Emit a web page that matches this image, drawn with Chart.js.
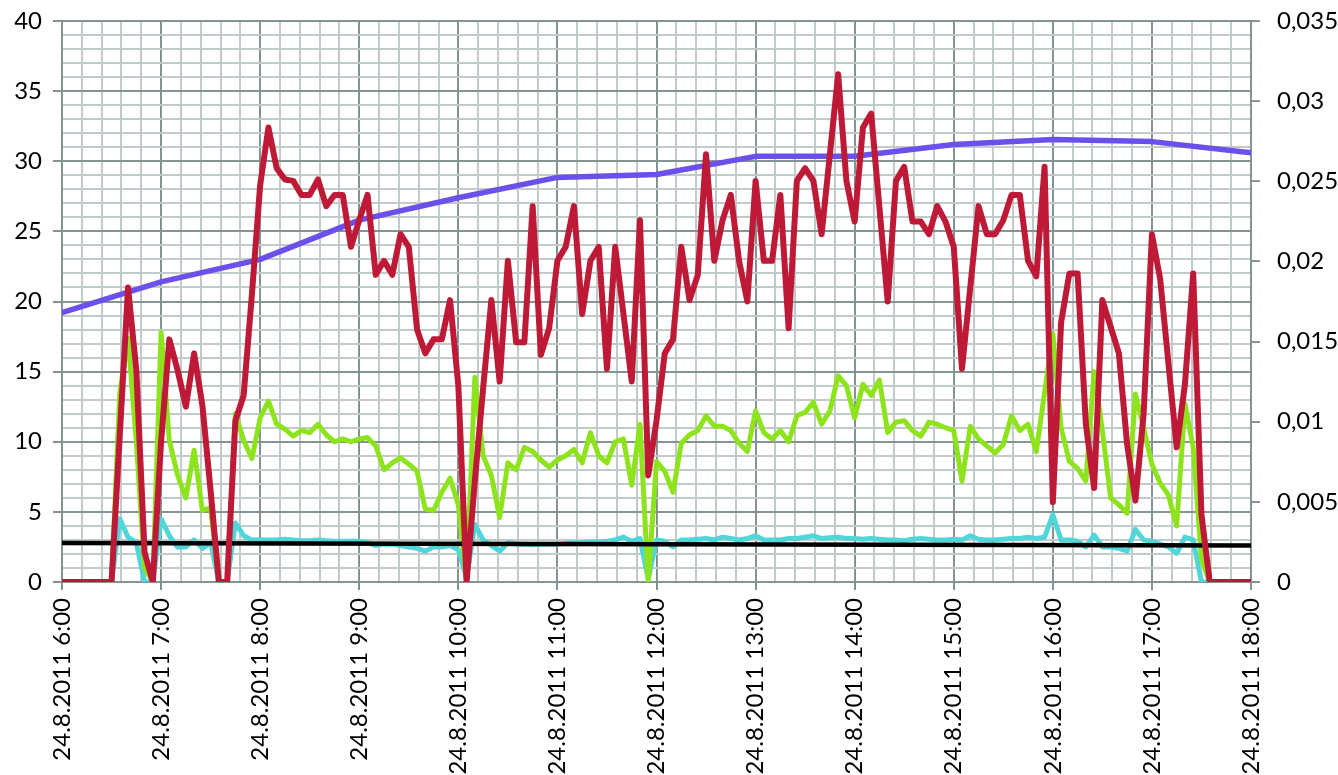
<!DOCTYPE html>
<html>
<head>
<meta charset="utf-8">
<script src="https://cdn.jsdelivr.net/npm/chart.js@4.4.0/dist/chart.umd.min.js"></script>
<style>
  body { margin: 0; background: #fff; }
  #wrap { width: 1338px; height: 775px; }
</style>
</head>
<body>
<div id="wrap"><canvas id="dayChart" width="1338" height="775"></canvas></div>
<script>
// day of measurements, one sample every 5 minutes from 6:00 to 18:00
const dateText = '24.8.2011';
const startHour = 6;
const stepMinutes = 5;

// one row per hour (12 samples), last value is 18:00
const redSeries = [
  0, 0, 0, 0, 0, 0, 0, 10.5, 21.0, 15.1, 2.1, 0,
  10, 17.3, 15.1, 12.5, 16.3, 12.6, 6.5, 0, 0, 11.5, 13.3, 20.5,
  28.3, 32.4, 29.5, 28.7, 28.6, 27.6, 27.6, 28.7, 26.8, 27.6, 27.6, 23.9,
  25.8, 27.6, 21.9, 22.9, 21.9, 24.8, 23.9, 18.0, 16.3, 17.3, 17.3, 20.1,
  14, 0, 7.2, 13.8, 20.1, 14.3, 22.9, 17.1, 17.1, 26.8, 16.2, 18.1,
  22.9, 23.9, 26.8, 19.1, 22.9, 23.9, 15.2, 23.9, 19.1, 14.3, 25.8, 7.6,
  11.5, 16.3, 17.3, 23.9, 20.1, 21.9, 30.5, 22.9, 25.8, 27.6, 22.9, 20.0,
  28.6, 22.9, 22.9, 27.6, 18.1, 28.6, 29.5, 28.6, 24.8, 30.5, 36.2, 28.6,
  25.7, 32.4, 33.4, 26.7, 20.0, 28.6, 29.6, 25.7, 25.7, 24.8, 26.8, 25.7,
  23.9, 15.2, 21.0, 26.8, 24.8, 24.8, 25.8, 27.6, 27.6, 22.9, 21.8, 29.6,
  5.7, 18.5, 22.0, 22.0, 11.25, 6.7, 20.1, 18.2, 16.3, 9.8, 5.8, 12,
  24.8, 21.6, 15.6, 9.6, 14.1, 22.0, 4.8, 0, 0, 0, 0, 0,
  0
];

const greenSeries = [
  0, 0, 0, 0, 0, 0, 0, 13.5, 17.4, 10, 1, 0,
  17.8, 10.1, 7.6, 6.0, 9.4, 5.1, 5.3, 0, 0, 12.0, 10.1, 8.8,
  11.7, 12.9, 11.25, 10.9, 10.4, 10.8, 10.65, 11.25, 10.5, 10.0, 10.2, 10.0,
  10.2, 10.3, 9.7, 8.0, 8.5, 8.85, 8.4, 7.9, 5.2, 5.1, 6.4, 7.4,
  5.5, 0, 14.6, 9.0, 7.6, 4.6, 8.5, 8.0, 9.6, 9.3, 8.7, 8.2,
  8.7, 9.0, 9.45, 8.5, 10.65, 9.0, 8.5, 10.0, 10.2, 6.9, 11.25, 0,
  8.6, 7.9, 6.4, 9.9, 10.5, 10.8, 11.85, 11.1, 11.1, 10.8, 9.9, 9.3,
  12.2, 10.65, 10.2, 10.8, 10.0, 11.85, 12.1, 12.8, 11.25, 12.2, 14.7, 14.0,
  11.7, 14.1, 13.3, 14.4, 10.65, 11.4, 11.5, 10.8, 10.4, 11.4, 11.25, 11.0,
  10.8, 7.2, 11.1, 10.2, 9.7, 9.2, 9.8, 11.85, 10.8, 11.25, 9.3, 13.5,
  17.7, 11.0, 8.6, 8.1, 7.2, 15.0, 10.8, 6.0, 5.5, 4.9, 13.4, 11.0,
  8.4, 7.05, 6.2, 4.0, 12.7, 9.6, 1.6, 0, 0, 0, 0, 0,
  0
];

const cyanSeries = [
  0, 0, 0, 0, 0, 0, 0, 4.5, 3.2, 2.8, 0, 0,
  4.5, 3.3, 2.5, 2.5, 3.0, 2.4, 2.8, 0, 0, 4.2, 3.3, 3.0,
  3.0, 3.0, 3.0, 3.05, 3.0, 2.95, 2.95, 3.0, 2.95, 2.9, 2.9, 2.9,
  2.9, 2.8, 2.6, 2.7, 2.7, 2.6, 2.5, 2.4, 2.2, 2.5, 2.5, 2.6,
  2.3, 0.3, 4.1, 3.0, 2.6, 2.2, 2.8, 2.7, 2.7, 2.65, 2.7, 2.7,
  2.7, 2.75, 2.8, 2.8, 2.85, 2.85, 2.9, 3.0, 3.2, 2.9, 3.1, 0.2,
  3.0, 2.9, 2.5, 3.0, 3.0, 3.05, 3.1, 3.0, 3.2, 3.1, 3.0, 3.1,
  3.3, 3.0, 3.0, 3.0, 3.1, 3.1, 3.2, 3.3, 3.1, 3.15, 3.2, 3.1,
  3.1, 3.05, 3.1, 3.05, 3.0, 3.0, 2.95, 3.05, 3.1, 3.05, 3.0, 3.0,
  3.05, 3.0, 3.3, 3.05, 3.0, 3.0, 3.05, 3.1, 3.1, 3.2, 3.1, 3.2,
  4.8, 3.0, 3.0, 2.9, 2.5, 3.35, 2.5, 2.5, 2.4, 2.2, 3.75, 3.0,
  2.9, 2.7, 2.5, 2.05, 3.2, 3.0, 0, 0, 0, 0, 0, 0,
  0
];

// hourly readings 6:00 .. 18:00
const blueHourly = [19.2, 21.4, 23.0, 25.8, 27.4, 28.85, 29.05, 30.35, 30.35, 31.2, 31.55, 31.4, 30.6];

// right axis series, start and end of the day
const blackLine = [0.00243, 0.00227];

const leftTicks = { min: 0, max: 40, major: 5 };
const rightTicks = { min: 0, max: 0.035, step: 0.005 };

const majorGrid = '#849494';
const minorGrid = '#c0cbca';

function toPoints(values, step) {
  return values.map((v, i) => ({ x: i * step, y: v }));
}

function timeLabel(minutes) {
  return dateText + ' ' + (startHour + minutes / 60) + ':00';
}

// fixed axis box so the plot area lands at the same place every time
function fixWidth(w) {
  return function (scale) {
    scale.width = w;
    scale.paddingTop = 0;
    scale.paddingBottom = 0;
  };
}

Chart.defaults.font.family = 'Lato';
Chart.defaults.font.size = 24;
Chart.defaults.color = '#000';

const ctx = document.getElementById('dayChart').getContext('2d');
const dayChart = new Chart(ctx, {
  type: 'line',
  data: {
    datasets: [
      {
        label: 'red',
        data: toPoints(redSeries, stepMinutes),
        borderColor: '#be1a37',
        borderWidth: 6,
        yAxisID: 'y'
      },
      {
        label: 'black',
        data: toPoints(blackLine, 720),
        borderColor: '#000000',
        borderWidth: 4.5,
        yAxisID: 'y2'
      },
      {
        label: 'green',
        data: toPoints(greenSeries, stepMinutes),
        borderColor: '#8de31c',
        borderWidth: 5,
        yAxisID: 'y'
      },
      {
        label: 'cyan',
        data: toPoints(cyanSeries, stepMinutes),
        borderColor: '#50d6d8',
        borderWidth: 5,
        yAxisID: 'y'
      },
      {
        label: 'blue',
        data: toPoints(blueHourly, 60),
        borderColor: '#6c50ec',
        borderWidth: 5.5,
        yAxisID: 'y'
      }
    ]
  },
  options: {
    responsive: false,
    animation: false,
    layout: { padding: { top: 21, left: 0, right: 0, bottom: 0 } },
    elements: {
      point: { radius: 0 },
      line: { tension: 0, borderJoinStyle: 'round', borderCapStyle: 'round', fill: false }
    },
    plugins: {
      legend: { display: false },
      tooltip: { enabled: false }
    },
    scales: {
      x: {
        type: 'linear',
        min: 0,
        max: 720,
        afterFit: function (scale) { scale.height = 193; },
        ticks: {
          stepSize: 12,
          autoSkip: false,
          minRotation: 90,
          maxRotation: 90,
          padding: 8,
          callback: function (value) {
            return value % 60 === 0 ? timeLabel(value) : '';
          }
        },
        grid: {
          lineWidth: 2,
          tickLength: 8,
          color: function (c) {
            return c.tick && c.tick.value % 60 === 0 ? majorGrid : minorGrid;
          },
          tickColor: function (c) {
            return c.tick && c.tick.value % 60 === 0 ? majorGrid : 'rgba(0,0,0,0)';
          }
        },
        border: { color: majorGrid, width: 2 }
      },
      y: {
        position: 'left',
        min: leftTicks.min,
        max: leftTicks.max,
        afterFit: fixWidth(62),
        ticks: {
          stepSize: 1,
          autoSkip: false,
          padding: 11,
          callback: function (value) {
            return value % leftTicks.major === 0 ? String(value) : '';
          }
        },
        grid: {
          lineWidth: 2,
          tickLength: 9,
          color: function (c) {
            return c.tick && c.tick.value % leftTicks.major === 0 ? majorGrid : minorGrid;
          },
          tickColor: function (c) {
            return c.tick && c.tick.value % leftTicks.major === 0 ? majorGrid : 'rgba(0,0,0,0)';
          }
        },
        border: { color: majorGrid, width: 2 }
      },
      y2: {
        position: 'right',
        min: rightTicks.min,
        max: rightTicks.max,
        afterFit: fixWidth(87),
        ticks: {
          stepSize: rightTicks.step,
          padding: 17,
          callback: function (value) {
            return String(Math.round(value * 1000) / 1000).replace('.', ',');
          }
        },
        grid: {
          drawOnChartArea: false,
          lineWidth: 2,
          tickLength: 9,
          color: majorGrid
        },
        border: { color: majorGrid, width: 2 }
      }
    }
  }
});
</script>
</body>
</html>
